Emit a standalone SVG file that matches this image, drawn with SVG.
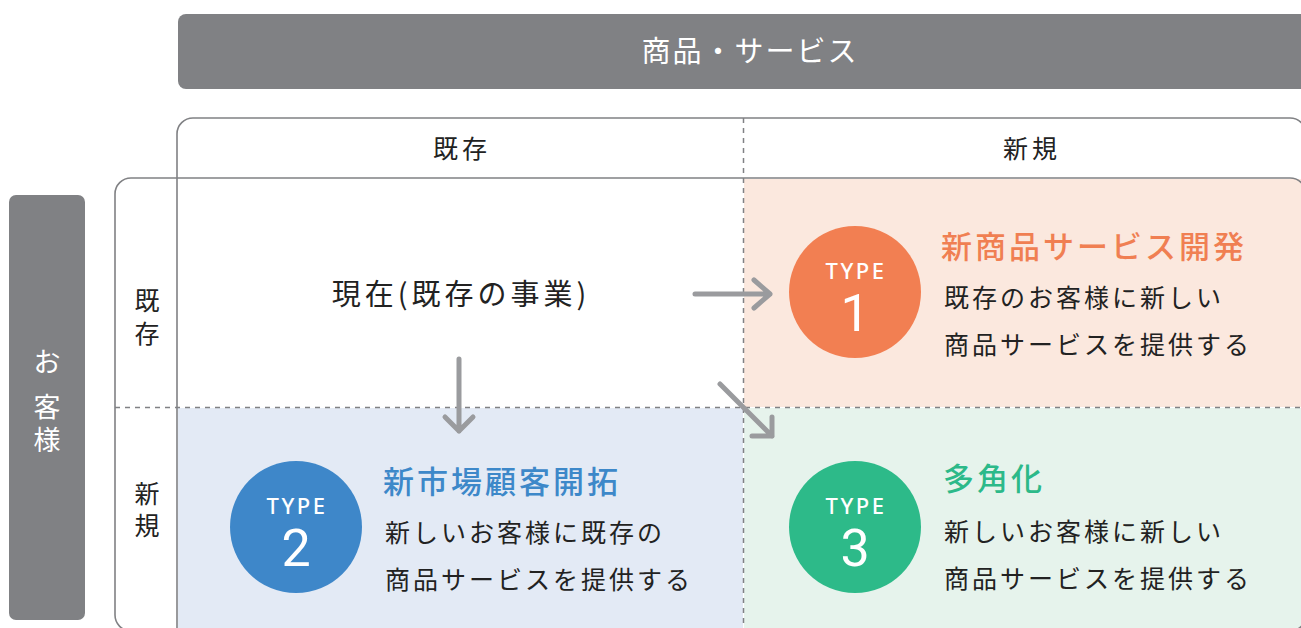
<svg xmlns="http://www.w3.org/2000/svg" width="1301" height="628" viewBox="0 0 1301 628">
<style>
.jp{font-family:"Noto Sans CJK JP","Noto Sans",sans-serif}
.lat{font-family:"Noto Sans","Liberation Sans",sans-serif}
.lbl{font-size:25px;fill:#222}
.body{font-size:25px;fill:#222;letter-spacing:3px}
.ttl{font-size:31px;font-weight:500;letter-spacing:3px}
.wt{fill:#fff}
.typ{font-size:22px;letter-spacing:2.5px;font-weight:500}
.num{font-family:Roboto,"Noto Sans",sans-serif;font-size:52px}
.frame{fill:none;stroke:#808184;stroke-width:1.6}
.dash{stroke:#808184;stroke-width:1.5;stroke-dasharray:5 5;fill:none}
.arr{stroke:#9a9b9e;stroke-width:5;fill:none;stroke-linecap:round;stroke-linejoin:round}
</style>
<rect width="1301" height="628" fill="#fff"/>
<g id="header">
<rect x="178" y="14" width="1140" height="75" rx="8" fill="#808184"/>
<text x="750" y="62" text-anchor="middle" class="jp wt" font-size="29" letter-spacing="2">商品・サービス</text>
</g>
<g id="customer-bar">
<rect x="9" y="195" width="76" height="425" rx="7" fill="#808184"/>
<text class="jp wt" font-size="27" text-anchor="middle"><tspan x="47" y="372">お</tspan><tspan x="47" y="417">客</tspan><tspan x="47" y="450">様</tspan></text>
</g>
<g id="quadrants">
<rect x="744" y="179" width="560" height="228" fill="#fbe8de"/>
<rect x="178" y="408" width="565" height="230" fill="#e3eaf5"/>
<rect x="744" y="408" width="560" height="230" fill="#e6f3ec"/>
</g>
<g id="frames">
<rect x="177" y="118" width="1129" height="560" rx="16" class="frame"/>
<rect x="115" y="178" width="1191" height="453" rx="16" class="frame"/>
<line x1="743.5" y1="118" x2="743.5" y2="628" class="dash"/>
<line x1="115" y1="407.5" x2="1301" y2="407.5" class="dash"/>
</g>
<g id="col-labels">
<text x="462" y="158" text-anchor="middle" class="jp lbl" letter-spacing="4">既存</text>
<text x="1032" y="158" text-anchor="middle" class="jp lbl" letter-spacing="4">新規</text>
</g>
<g id="row-labels">
<text class="jp lbl" text-anchor="middle"><tspan x="147" y="310">既</tspan><tspan x="147" y="343">存</tspan></text>
<text class="jp lbl" text-anchor="middle"><tspan x="147" y="503">新</tspan><tspan x="147" y="535">規</tspan></text>
</g>
<g id="current">
<text x="461" y="305" text-anchor="middle" class="jp" font-size="29" fill="#222" letter-spacing="4">現在(既存の事業)</text>
</g>
<g id="type1">
<circle cx="855" cy="292" r="66" fill="#f27f52"/>
<text x="856" y="279" text-anchor="middle" class="lat wt typ">TYPE</text>
<text x="855" y="331" text-anchor="middle" class="wt num">1</text>
<text x="941" y="258" class="jp ttl" fill="#f07f52">新商品サービス開発</text>
<text x="944" y="307" class="jp body">既存のお客様に新しい</text>
<text x="944" y="354" class="jp body">商品サービスを提供する</text>
</g>
<g id="type2">
<circle cx="296" cy="527" r="66" fill="#3e87c9"/>
<text x="297" y="514" text-anchor="middle" class="lat wt typ">TYPE</text>
<text x="296" y="566" text-anchor="middle" class="wt num">2</text>
<text x="383" y="493" class="jp ttl" fill="#3d88c9">新市場顧客開拓</text>
<text x="385" y="542" class="jp body">新しいお客様に既存の</text>
<text x="385" y="589" class="jp body">商品サービスを提供する</text>
</g>
<g id="type3">
<circle cx="855" cy="527" r="66" fill="#2dba89"/>
<text x="856" y="514" text-anchor="middle" class="lat wt typ">TYPE</text>
<text x="855" y="566" text-anchor="middle" class="wt num">3</text>
<text x="943" y="490" class="jp ttl" fill="#2cb989">多角化</text>
<text x="944" y="541" class="jp body">新しいお客様に新しい</text>
<text x="944" y="588" class="jp body">商品サービスを提供する</text>
</g>
<g id="connectors">
<path class="arr" d="M695 294 H770 M754 280 L770 294 L754 308"/>
<path class="arr" d="M459 359 V431 M445 417 L459 431 L473 417"/>
<path class="arr" d="M720 384 L772 436 M772 417 V436 H752"/>
</g>
</svg>
